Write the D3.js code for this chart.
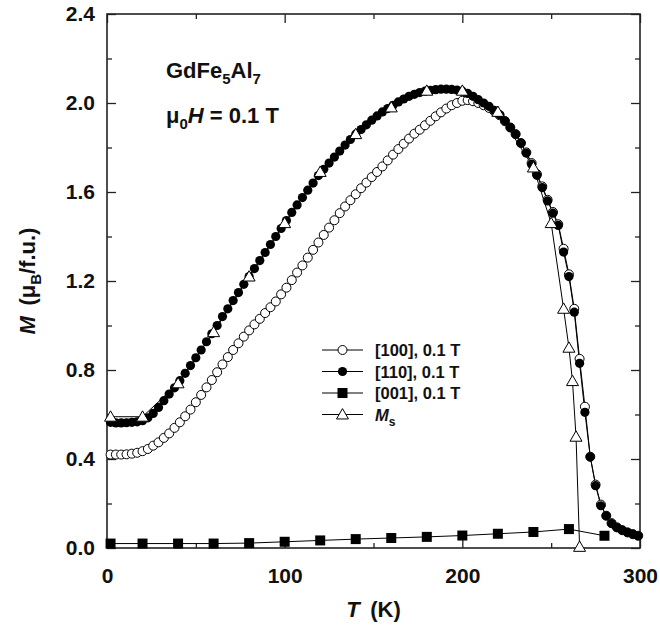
<!DOCTYPE html>
<html>
<head>
<meta charset="UTF-8">
<script src="https://d3js.org/d3.v7.min.js"></script>
<style>
  body { margin: 0; background: #fff; }
  svg { display: block; }
  text { font-family: Arial, "Liberation Sans", sans-serif; fill: #111; }
</style>
</head>
<body>
<script>
// temperatures (K) for the two dense in-plane sweeps
var temps = [2, 5, 8, 11, 14, 17, 20, 23, 26, 29, 32, 35, 38, 41, 44, 47, 50, 53, 56, 59,
  62, 65, 68, 71, 74, 77, 80, 83, 86, 89, 92, 95, 98, 101, 104, 107, 110, 113, 116, 119,
  122, 125, 128, 131, 134, 137, 140, 143, 146, 149, 152, 155, 158, 161, 164, 167, 170, 173, 176, 179,
  182, 185, 188, 191, 194, 197, 200, 203, 206, 209, 212, 215, 218, 221, 224, 227, 230, 233, 236, 239,
  242, 245, 248, 251, 254, 257, 260, 263, 266, 269, 272, 275, 278, 281, 284, 287, 290, 293, 296, 299];

// [100], 0.1 T  (open circles)
var m100 = [0.42, 0.42, 0.42, 0.421, 0.424, 0.428, 0.435, 0.445, 0.46, 0.475, 0.495, 0.515, 0.54, 0.565, 0.592, 0.622, 0.655, 0.688, 0.722, 0.755,
  0.79, 0.825, 0.858, 0.89, 0.92, 0.95, 0.978, 1.005, 1.03, 1.056, 1.082, 1.108, 1.14, 1.17, 1.204, 1.238, 1.27, 1.305, 1.34, 1.373,
  1.407, 1.44, 1.473, 1.505, 1.535, 1.563, 1.59, 1.617, 1.642, 1.667, 1.69, 1.715, 1.742, 1.768, 1.793, 1.817, 1.84, 1.862, 1.88, 1.9,
  1.92, 1.94, 1.958, 1.975, 1.99, 2.0, 2.01, 2.013, 2.008, 2.0, 1.99, 1.978, 1.963, 1.945, 1.918, 1.89, 1.86, 1.82, 1.778, 1.73,
  1.68, 1.625, 1.565, 1.51, 1.455, 1.345, 1.23, 1.075, 0.85, 0.635, 0.41, 0.285, 0.195, 0.145, 0.112, 0.093, 0.08, 0.07, 0.062, 0.055];

// [110], 0.1 T  (filled circles)
var m110 = [0.565, 0.562, 0.562, 0.563, 0.565, 0.567, 0.572, 0.585, 0.605, 0.632, 0.662, 0.692, 0.72, 0.752, 0.785, 0.82, 0.855, 0.89, 0.927, 0.963,
  1.0, 1.04, 1.075, 1.112, 1.148, 1.185, 1.22, 1.256, 1.292, 1.328, 1.364, 1.4, 1.436, 1.472, 1.508, 1.542, 1.575, 1.608, 1.64, 1.674,
  1.702, 1.73, 1.757, 1.784, 1.811, 1.836, 1.86, 1.881, 1.902, 1.923, 1.942, 1.96, 1.975, 1.99, 2.005, 2.018, 2.03, 2.039, 2.047, 2.053,
  2.057, 2.06, 2.062, 2.062, 2.061, 2.058, 2.053, 2.043, 2.03, 2.015, 2.0, 1.985, 1.967, 1.947, 1.92, 1.89, 1.86, 1.82, 1.775, 1.725,
  1.675, 1.62, 1.56, 1.505, 1.45, 1.33, 1.22, 1.06, 0.83, 0.61, 0.41, 0.28, 0.19, 0.145, 0.11, 0.092, 0.08, 0.07, 0.062, 0.055];

// [001], 0.1 T  (filled squares)
var temps001 = [2, 20, 40, 60, 80, 100, 120, 140, 160, 180, 200, 220, 240, 260, 280];
var m001 = [0.02, 0.02, 0.02, 0.02, 0.022, 0.028, 0.034, 0.04, 0.045, 0.05, 0.056, 0.064, 0.072, 0.085, 0.055];

// Ms  (open triangles)
var tempsMs = [2, 20, 40, 60, 80, 100, 120, 140, 160, 180, 200, 220, 240, 250, 257, 260, 262, 264, 266];
var ms = [0.59, 0.59, 0.74, 0.97, 1.22, 1.46, 1.69, 1.86, 1.98, 2.055, 2.055, 1.96, 1.71, 1.46, 1.075, 0.9, 0.75, 0.5, 0.005];

var xTicks = [0, 100, 200, 300];
var xMinor = [50, 150, 250];
var yTicks = [0, 0.4, 0.8, 1.2, 1.6, 2.0, 2.4];
var yMinor = [0.2, 0.6, 1.0, 1.4, 1.8, 2.2];

var svgWidth = 660, svgHeight = 629;
var margin = {top: 14, right: 20, bottom: 81, left: 107}
  , width = svgWidth - margin.left - margin.right
  , height = svgHeight - margin.top - margin.bottom;

var svg = d3.select("body").append("svg")
  .attr("width", svgWidth)
  .attr("height", svgHeight);

var g = svg.append("g")
  .attr("transform", "translate(" + margin.left + "," + margin.top + ")");

var x = d3.scaleLinear().domain([0, 300]).range([0, width]);
var y = d3.scaleLinear().domain([0, 2.4]).range([height, 0]);

function zip(xs, ys) { return xs.map(function(t, i) { return {t: t, m: ys[i]}; }); }

var d100 = zip(temps, m100), d110 = zip(temps, m110),
    d001 = zip(temps001, m001), dMs = zip(tempsMs, ms);

var line = d3.line().x(function(d) { return x(d.t); }).y(function(d) { return y(d.m); });

// ticks on all four sides, pointing in (major 9px, minor 5px)
function inTicks(axis, transform, vals, len) {
  g.append("g").attr("transform", transform)
    .call(axis.tickValues(vals).tickSize(len).tickFormat(""))
    .call(function(s) {
      s.select(".domain").remove();
      s.selectAll("line").attr("stroke", "#222").attr("stroke-width", 1.3);
    });
}
inTicks(d3.axisTop(x), "translate(0," + height + ")", xTicks, 9);
inTicks(d3.axisBottom(x), "translate(0,0)", xTicks, 9);
inTicks(d3.axisRight(y), "translate(0,0)", yTicks, 9);
inTicks(d3.axisLeft(y), "translate(" + width + ",0)", yTicks, 9);
inTicks(d3.axisTop(x), "translate(0," + height + ")", xMinor, 5);
inTicks(d3.axisBottom(x), "translate(0,0)", xMinor, 5);
inTicks(d3.axisRight(y), "translate(0,0)", yMinor, 5);
inTicks(d3.axisLeft(y), "translate(" + width + ",0)", yMinor, 5);

// frame
g.append("rect").attr("width", width).attr("height", height)
  .attr("fill", "none").attr("stroke", "#222").attr("stroke-width", 1.6);

// tick labels
function styleLabels(s) {
  s.select(".domain").remove();
  s.selectAll("text").attr("font-size", 21).attr("font-weight", "bold")
    .style("font-family", "Arial, 'Liberation Sans', sans-serif").attr("fill", "#111");
}
g.append("g").attr("transform", "translate(0," + height + ")")
  .call(d3.axisBottom(x).tickValues(xTicks).tickSize(0).tickPadding(20).tickFormat(d3.format("d")))
  .call(styleLabels);
g.append("g")
  .call(d3.axisLeft(y).tickValues(yTicks).tickSize(0).tickPadding(12).tickFormat(d3.format(".1f")))
  .call(styleLabels);

// connecting lines
[d001, dMs, d100, d110].forEach(function(d) {
  g.append("path").datum(d).attr("d", line)
    .attr("fill", "none").attr("stroke", "#000").attr("stroke-width", 1);
});

var tri = d3.symbol().type(d3.symbolTriangle).size(62);

function drawMarkers(data, kind) {
  var sel = g.append("g").selectAll(".pt").data(data).enter();
  if (kind === "open") {
    sel.append("circle").attr("cx", function(d) { return x(d.t); }).attr("cy", function(d) { return y(d.m); })
      .attr("r", 4.5).attr("fill", "#fff").attr("stroke", "#000").attr("stroke-width", 1);
  } else if (kind === "filled") {
    sel.append("circle").attr("cx", function(d) { return x(d.t); }).attr("cy", function(d) { return y(d.m); })
      .attr("r", 4.6).attr("fill", "#000");
  } else if (kind === "square") {
    sel.append("rect").attr("x", function(d) { return x(d.t) - 5; }).attr("y", function(d) { return y(d.m) - 5; })
      .attr("width", 10).attr("height", 10).attr("fill", "#000");
  } else {
    sel.append("path").attr("d", tri)
      .attr("transform", function(d) { return "translate(" + x(d.t) + "," + (y(d.m) + 1) + ")"; })
      .attr("fill", "#fff").attr("stroke", "#000").attr("stroke-width", 1);
  }
}
drawMarkers(d001, "square");
drawMarkers(d100, "open");
drawMarkers(d110, "filled");
drawMarkers(dMs, "tri");

// legend
var legend = svg.append("g").attr("transform", "translate(322,350)");
var legendItems = [
  {kind: "open", label: "[100], 0.1 T"},
  {kind: "filled", label: "[110], 0.1 T"},
  {kind: "square", label: "[001], 0.1 T"},
  {kind: "tri", label: "M"}
];
legendItems.forEach(function(it, i) {
  var row = legend.append("g").attr("transform", "translate(0," + (i * 21.5) + ")");
  row.append("line").attr("x1", 0).attr("x2", 41).attr("y1", 0).attr("y2", 0).attr("stroke", "#000").attr("stroke-width", 1);
  if (it.kind === "open") row.append("circle").attr("cx", 20.5).attr("r", 4.5).attr("fill", "#fff").attr("stroke", "#000");
  else if (it.kind === "filled") row.append("circle").attr("cx", 20.5).attr("r", 4.6).attr("fill", "#000");
  else if (it.kind === "square") row.append("rect").attr("x", 15.5).attr("y", -5).attr("width", 10).attr("height", 10).attr("fill", "#000");
  else row.append("path").attr("d", tri).attr("transform", "translate(20.5,1)").attr("fill", "#fff").attr("stroke", "#000");
  var t = row.append("text").attr("x", 53).attr("y", 6).attr("font-size", 16.5).attr("font-weight", "bold");
  if (it.kind === "tri") {
    t.append("tspan").attr("font-style", "italic").text("M");
    t.append("tspan").attr("font-size", 12).attr("dy", 5).text("s");
  } else {
    t.text(it.label);
  }
});

// annotation
var t1 = svg.append("text").attr("x", 166).attr("y", 78).attr("font-size", 22).attr("font-weight", "bold");
t1.append("tspan").text("GdFe");
t1.append("tspan").attr("font-size", 15).attr("dy", 6).text("5");
t1.append("tspan").attr("dy", -6).text("Al");
t1.append("tspan").attr("font-size", 15).attr("dy", 6).text("7");

var t2 = svg.append("text").attr("x", 166).attr("y", 123).attr("font-size", 22).attr("font-weight", "bold");
t2.append("tspan").text("\u03bc");
t2.append("tspan").attr("font-size", 15).attr("dy", 6).text("0");
t2.append("tspan").attr("dy", -6).attr("font-style", "italic").text("H");
t2.append("tspan").text(" = 0.1 T");

// axis titles
var xt = svg.append("text").attr("x", margin.left + x(150)).attr("y", 617)
  .attr("text-anchor", "middle").attr("font-size", 22).attr("font-weight", "bold");
xt.append("tspan").attr("font-style", "italic").text("T");
xt.append("tspan").text("\u2009 (K)");

var yt = svg.append("text").attr("transform", "translate(35,281) rotate(-90)")
  .attr("text-anchor", "middle").attr("font-size", 22).attr("font-weight", "bold");
yt.append("tspan").attr("font-style", "italic").text("M");
yt.append("tspan").text("\u2009 (\u03bc");
yt.append("tspan").attr("font-size", 15).attr("dy", 6).text("B");
yt.append("tspan").attr("dy", -6).text("/f.u.)");
</script>
</body>
</html>
